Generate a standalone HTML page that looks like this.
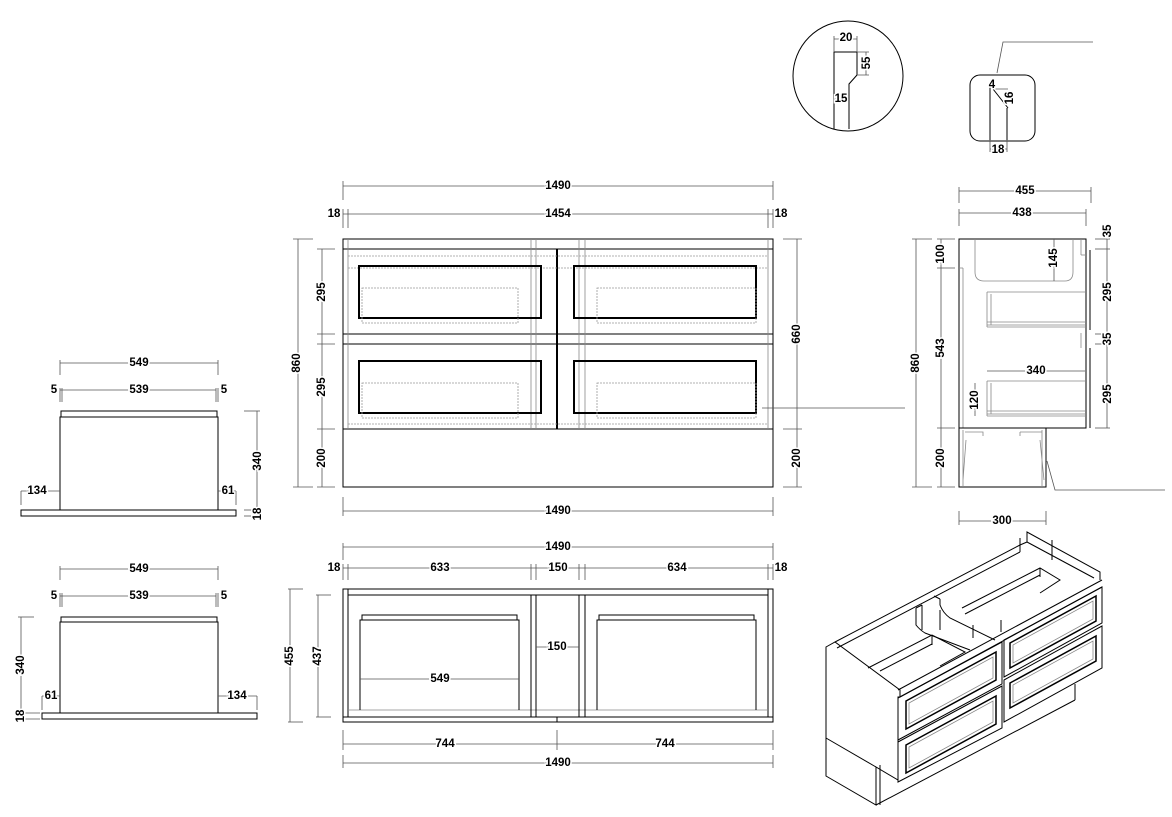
<!DOCTYPE html>
<html><head><meta charset="utf-8"><style>
html,body{margin:0;padding:0;background:#fff}
svg{display:block}
text{font-family:"Liberation Sans",sans-serif;font-weight:bold;font-size:11.5px;fill:#000;paint-order:stroke;stroke:#fff;stroke-width:3px;text-anchor:middle;dominant-baseline:central}
.l{stroke:#000;stroke-width:1;fill:none}
.t{stroke:#000;stroke-width:2;fill:none}
.p{stroke:#000;stroke-width:1.5;fill:none}
.g{stroke:#888;stroke-width:.8;fill:none}
.d{stroke:#999;stroke-width:.8;fill:none;stroke-dasharray:2 1}
.m{stroke:#555;stroke-width:.8;fill:none}
</style></head><body>
<svg width="1172" height="817" viewBox="0 0 1172 817" xmlns="http://www.w3.org/2000/svg">

<!-- ===== FRONT VIEW ===== -->
<g>
<rect class="l" x="343" y="239" width="430" height="248"/>
<line class="l" x1="343" y1="249" x2="773" y2="249"/>
<line class="l" x1="343" y1="334" x2="773" y2="334"/>
<line class="l" x1="343" y1="344" x2="773" y2="344"/>
<line class="l" x1="343" y1="429" x2="773" y2="429"/>
<line class="t" x1="557" y1="249" x2="557" y2="429"/>
<line class="g" x1="348" y1="239" x2="348" y2="429"/>
<line class="g" x1="768" y1="239" x2="768" y2="429"/>
<line class="g" x1="531" y1="239" x2="531" y2="429"/>
<line class="g" x1="536" y1="239" x2="536" y2="429"/>
<line class="g" x1="579" y1="239" x2="579" y2="429"/>
<line class="g" x1="585" y1="239" x2="585" y2="429"/>
<line class="d" x1="348" y1="256" x2="768" y2="256"/>
<line class="d" x1="348" y1="268" x2="768" y2="268"/>
<line class="d" x1="348" y1="424" x2="768" y2="424"/>
<rect class="t" x="359" y="266" width="182" height="52"/>
<rect class="t" x="574" y="266" width="182" height="52"/>
<rect class="t" x="359" y="361" width="182" height="52"/>
<rect class="t" x="574" y="361" width="182" height="52"/>
<rect class="d" x="362" y="288" width="156" height="35"/>
<rect class="d" x="597" y="288" width="159" height="35"/>
<rect class="d" x="362" y="383" width="156" height="35"/>
<rect class="d" x="597" y="383" width="159" height="35"/>
<line class="m" x1="762" y1="408" x2="905" y2="408"/>
</g>
<g class="m">
<line x1="343" y1="186" x2="773" y2="186"/><line x1="343" y1="181" x2="343" y2="200"/><line x1="773" y1="181" x2="773" y2="200"/>
<line x1="343" y1="214" x2="773" y2="214"/><line x1="343" y1="209" x2="343" y2="228"/><line x1="348" y1="209" x2="348" y2="228"/><line x1="768" y1="209" x2="768" y2="228"/><line x1="773" y1="209" x2="773" y2="228"/>
<line x1="298" y1="239" x2="298" y2="487"/><line x1="293" y1="239" x2="313" y2="239"/><line x1="293" y1="487" x2="313" y2="487"/>
<line x1="322" y1="249" x2="322" y2="487"/><line x1="317" y1="249" x2="335" y2="249"/><line x1="317" y1="334" x2="335" y2="334"/><line x1="317" y1="344" x2="335" y2="344"/><line x1="317" y1="429" x2="335" y2="429"/><line x1="317" y1="487" x2="335" y2="487"/>
<line x1="797" y1="239" x2="797" y2="487"/><line x1="783" y1="239" x2="802" y2="239"/><line x1="783" y1="429" x2="802" y2="429"/><line x1="783" y1="487" x2="802" y2="487"/>
<line x1="343" y1="511" x2="773" y2="511"/><line x1="343" y1="497" x2="343" y2="516"/><line x1="773" y1="497" x2="773" y2="516"/>
</g>
<text x="558" y="186">1490</text>
<text x="558" y="214">1454</text>
<text x="334" y="214">18</text>
<text x="781" y="214">18</text>
<text x="558" y="511">1490</text>
<text transform="translate(297,363) rotate(-90)">860</text>
<text transform="translate(322,292) rotate(-90)">295</text>
<text transform="translate(322,387) rotate(-90)">295</text>
<text transform="translate(322,458) rotate(-90)">200</text>
<text transform="translate(797,334) rotate(-90)">660</text>
<text transform="translate(797,458) rotate(-90)">200</text>

<!-- ===== SIDE VIEW ===== -->
<g>
<rect class="l" x="959" y="239" width="127" height="189"/>
<line class="l" x1="1090" y1="250" x2="1090" y2="330"/>
<line class="l" x1="1090" y1="348" x2="1090" y2="428"/>
<line class="g" x1="1081" y1="239" x2="1081" y2="255"/><line class="g" x1="1081" y1="255" x2="1086" y2="255"/>
<line class="g" x1="1081" y1="333" x2="1081" y2="348"/>
<line class="g" x1="963" y1="268" x2="963" y2="428"/><line class="g" x1="959" y1="268" x2="963" y2="268"/>
<path class="g" d="M975 239 V272 Q975 281 984 281 H1065 Q1073 281 1073 272 V239"/>
<path class="g" d="M987 292 H1086 M987 292 V327 M991 294 V325 M987 322 H1086 M987 325 H1086 M987 327 H1086"/>
<path class="g" d="M987 381 H1086 M987 381 V416 M991 383 V414 M987 411 H1086 M987 414 H1086 M987 416 H1086"/>
<rect class="l" x="959" y="428" width="87" height="59"/>
<path class="g" d="M963 430 V487 M1042 430 V487 M965 432 H983 V436 M1020 432 H1042 M1020 432 V436 M966 440 L963 480 M1040 440 L1044 480"/>
<path class="m" d="M1047 461 L1055 490 H1165"/>
</g>
<g class="m">
<line x1="959" y1="191" x2="1091" y2="191"/><line x1="959" y1="187" x2="959" y2="203"/><line x1="1091" y1="187" x2="1091" y2="203"/>
<line x1="959" y1="213" x2="1086" y2="213"/><line x1="959" y1="209" x2="959" y2="226"/><line x1="1086" y1="209" x2="1086" y2="226"/>
<line x1="916" y1="239" x2="916" y2="487"/><line x1="912" y1="239" x2="932" y2="239"/><line x1="912" y1="487" x2="932" y2="487"/>
<line x1="941" y1="239" x2="941" y2="487"/><line x1="937" y1="239" x2="955" y2="239"/><line x1="937" y1="268" x2="955" y2="268"/><line x1="937" y1="428" x2="955" y2="428"/><line x1="937" y1="487" x2="955" y2="487"/>
<line x1="1107" y1="239" x2="1107" y2="428"/><line x1="1095" y1="249" x2="1110" y2="249"/><line x1="1095" y1="334" x2="1110" y2="334"/><line x1="1095" y1="344" x2="1110" y2="344"/><line x1="1095" y1="428" x2="1110" y2="428"/><line x1="1095" y1="239" x2="1110" y2="239"/>
<line x1="1054" y1="239" x2="1054" y2="281"/>
<line x1="987" y1="371" x2="1085" y2="371"/>
<line x1="975" y1="383" x2="975" y2="416"/>
<line x1="959" y1="521" x2="1046" y2="521"/><line x1="959" y1="511" x2="959" y2="525"/><line x1="1046" y1="511" x2="1046" y2="525"/>
</g>
<text x="1025" y="191">455</text>
<text x="1022" y="213">438</text>
<text transform="translate(916,363) rotate(-90)">860</text>
<text transform="translate(941,254) rotate(-90)">100</text>
<text transform="translate(941,348) rotate(-90)">543</text>
<text transform="translate(941,458) rotate(-90)">200</text>
<text transform="translate(1108,231) rotate(-90)">35</text>
<text transform="translate(1108,292) rotate(-90)">295</text>
<text transform="translate(1108,339) rotate(-90)">35</text>
<text transform="translate(1108,394) rotate(-90)">295</text>
<text transform="translate(1054,258) rotate(-90)">145</text>
<text x="1036" y="371">340</text>
<text transform="translate(975,400) rotate(-90)">120</text>
<text x="1002" y="521">300</text>

<!-- ===== DETAILS ===== -->
<circle class="l" cx="848" cy="76" r="55"/>
<path class="l" d="M834 129 V52 H857 V75 L849 84 V129"/>
<path class="m" d="M834 52 V36 M857 52 V36 M834 39 H857 M857 52 H869 M857 75 H869 M866 52 V75 M834 98 H838"/>
<text x="846" y="38">20</text>
<text transform="translate(867,63) rotate(-90)">55</text>
<text x="841" y="99">15</text>
<rect class="l" x="970" y="75" width="65" height="66" rx="10"/>
<path class="l" d="M990 86 V140 M1007 108 V140 M993 89 L1008 108"/>
<path class="m" d="M1093 42 H1003 L997 73 M993 89 H1008 M990 140 V152 M1007 140 V152 M990 149 H1007"/>
<text x="992" y="85">4</text>
<text transform="translate(1010,98) rotate(-90)">16</text>
<text x="998" y="150">18</text>

<!-- ===== LEFT SIDE VIEWS ===== -->
<g>
<rect class="l" x="60" y="417" width="158" height="93"/>
<path class="l" d="M61 417 V411 H217 V417"/>
<rect class="l" x="21" y="510" width="215" height="6"/>
<rect class="l" x="60" y="622" width="158" height="91"/>
<path class="l" d="M61 622 V617 H217 V622"/>
<rect class="l" x="42" y="713" width="215" height="6"/>
</g>
<g class="m">
<line x1="60" y1="363" x2="218" y2="363"/><line x1="60" y1="360" x2="60" y2="375"/><line x1="218" y1="360" x2="218" y2="375"/>
<line x1="60" y1="390" x2="216" y2="390"/><line x1="60" y1="388" x2="60" y2="402"/><line x1="62" y1="388" x2="62" y2="402"/><line x1="216" y1="388" x2="216" y2="402"/><line x1="218" y1="388" x2="218" y2="402"/>
<line x1="257" y1="411" x2="257" y2="516"/><line x1="244" y1="411" x2="260" y2="411"/><line x1="244" y1="510" x2="260" y2="510"/><line x1="244" y1="516" x2="260" y2="516"/>
<line x1="21" y1="491" x2="60" y2="491"/><line x1="21" y1="491" x2="21" y2="505"/><line x1="218" y1="491" x2="236" y2="491"/><line x1="236" y1="491" x2="236" y2="505"/>
<line x1="60" y1="569" x2="218" y2="569"/><line x1="60" y1="566" x2="60" y2="580"/><line x1="218" y1="566" x2="218" y2="580"/>
<line x1="60" y1="596" x2="216" y2="596"/><line x1="60" y1="593" x2="60" y2="607"/><line x1="62" y1="593" x2="62" y2="607"/><line x1="216" y1="593" x2="216" y2="607"/><line x1="218" y1="593" x2="218" y2="607"/>
<line x1="21" y1="617" x2="21" y2="719"/><line x1="18" y1="617" x2="34" y2="617"/><line x1="18" y1="713" x2="40" y2="713"/><line x1="18" y1="719" x2="40" y2="719"/>
<line x1="42" y1="696" x2="60" y2="696"/><line x1="42" y1="696" x2="42" y2="710"/><line x1="218" y1="696" x2="257" y2="696"/><line x1="257" y1="696" x2="257" y2="710"/>
</g>
<text x="139" y="363">549</text><text x="139" y="390">539</text><text x="54" y="390">5</text><text x="224" y="390">5</text>
<text transform="translate(258,461) rotate(-90)">340</text><text transform="translate(258,514) rotate(-90)">18</text>
<text x="37" y="491">134</text><text x="228" y="491">61</text>
<text x="139" y="569">549</text><text x="139" y="596">539</text><text x="54" y="596">5</text><text x="224" y="596">5</text>
<text transform="translate(21,665) rotate(-90)">340</text><text transform="translate(21,716) rotate(-90)">18</text>
<text x="51" y="696">61</text><text x="237" y="696">134</text>

<!-- ===== PLAN VIEW ===== -->
<g>
<rect class="l" x="343" y="589" width="430" height="133"/>
<line class="l" x1="348" y1="595" x2="768" y2="595"/>
<line class="l" x1="348" y1="589" x2="348" y2="717"/>
<line class="l" x1="768" y1="589" x2="768" y2="717"/>
<line class="l" x1="343" y1="717" x2="773" y2="717"/>
<line class="g" x1="348" y1="710" x2="768" y2="710"/>
<rect class="l" x="531" y="595" width="5" height="122"/>
<rect class="l" x="579" y="595" width="6" height="122"/>
<line class="l" x1="557" y1="717" x2="557" y2="722"/>
<path class="l" d="M360 710 V620 H519 V710 M362 620 V615 H517 V620"/>
<path class="l" d="M597 710 V620 H756 V710 M599 620 V615 H754 V620"/>
</g>
<g class="m">
<line x1="343" y1="547" x2="773" y2="547"/><line x1="343" y1="543" x2="343" y2="560"/><line x1="773" y1="543" x2="773" y2="560"/>
<line x1="343" y1="568" x2="773" y2="568"/>
<line x1="343" y1="564" x2="343" y2="580"/><line x1="348" y1="564" x2="348" y2="580"/><line x1="531" y1="564" x2="531" y2="580"/><line x1="536" y1="564" x2="536" y2="580"/><line x1="579" y1="564" x2="579" y2="580"/><line x1="585" y1="564" x2="585" y2="580"/><line x1="768" y1="564" x2="768" y2="580"/><line x1="773" y1="564" x2="773" y2="580"/>
<line x1="536" y1="647" x2="579" y2="647"/>
<line x1="360" y1="679" x2="519" y2="679"/>
<line x1="290" y1="589" x2="290" y2="722"/><line x1="288" y1="589" x2="303" y2="589"/><line x1="288" y1="722" x2="303" y2="722"/>
<line x1="318" y1="595" x2="318" y2="717"/><line x1="316" y1="595" x2="331" y2="595"/><line x1="316" y1="717" x2="331" y2="717"/>
<line x1="343" y1="744" x2="773" y2="744"/><line x1="343" y1="730" x2="343" y2="750"/><line x1="557" y1="730" x2="557" y2="750"/><line x1="773" y1="730" x2="773" y2="750"/>
<line x1="343" y1="763" x2="773" y2="763"/><line x1="343" y1="755" x2="343" y2="768"/><line x1="773" y1="755" x2="773" y2="768"/>
</g>
<text x="558" y="547">1490</text>
<text x="334" y="568">18</text><text x="440" y="568">633</text><text x="558" y="568">150</text><text x="677" y="568">634</text><text x="781" y="568">18</text>
<text x="557" y="647">150</text>
<text x="440" y="679">549</text>
<text transform="translate(290,656) rotate(-90)">455</text>
<text transform="translate(318,656) rotate(-90)">437</text>
<text x="445" y="744">744</text><text x="665" y="744">744</text>
<text x="558" y="763">1490</text>

<!-- ===== ISOMETRIC ===== -->
<g class="l">
<path d="M826 647 L835 642 L900 690 L900 697 L898 697 L898 780 L876 767 V805 L826 776 Z"/>
<line x1="826" y1="738" x2="876" y2="767"/>
<line x1="876" y1="805" x2="1075" y2="700"/>
<line x1="1075" y1="684" x2="1075" y2="700"/>
<line x1="880" y1="765" x2="880" y2="805"/>
<path d="M835 642 L1020 545 L1027 542 L1027 532 L1100 572 L1100 580"/>
<line x1="837" y1="648" x2="1020" y2="552"/>
<line x1="1020" y1="538" x2="1020" y2="552"/>
<line x1="1027" y1="542" x2="1094" y2="578"/>
<path d="M898 690 L1102 580"/>
<path d="M900 697 L1102 587"/>
<path d="M898 698 L1002 642 V684 L898 740 Z"/>
<path d="M898 742 L1002 686 V728 L898 782 Z"/>
<path d="M1004 640 L1102 587 V623 L1004 677 Z"/>
<path d="M1004 680 L1102 626 V668 L1004 722 Z"/>
<path class="p" d="M906 701 L996 652 V680 L906 729 Z"/>
<path class="g" d="M909 703 L993 657 V678 L909 724 Z"/>
<path class="p" d="M906 745 L996 696 V724 L906 773 Z"/>
<path class="g" d="M909 747 L993 701 V722 L909 768 Z"/>
<path class="p" d="M1010 643 L1096 596 V621 L1010 668 Z"/>
<path class="g" d="M1013 645 L1093 601 V619 L1013 663 Z"/>
<path class="p" d="M1010 683 L1096 636 V661 L1010 708 Z"/>
<path class="g" d="M1013 685 L1093 641 V659 L1013 703 Z"/>
<path d="M868 668 L932 635 L965 652 L940 666"/>
<path d="M880 671 L932 644"/>
<path d="M932 635 V645"/>
<path d="M962 608 L1040 568 L1060 580 L1040 593"/>
<path d="M965 614 L1040 575"/>
<path d="M1040 568 V577"/>
<path d="M916 608 V625 Q920 630 925 633 L970 650"/>
<path d="M940 599 V605 Q943 613 950 618 L995 640"/>
<path d="M934 596 L940 599"/>
<line x1="916" y1="608" x2="922" y2="605"/>
<line x1="922" y1="605" x2="922" y2="630"/>
<line x1="940" y1="630" x2="940" y2="610"/>
<line x1="973" y1="625" x2="973" y2="638"/><line x1="1001" y1="620" x2="1001" y2="632"/>
<line x1="1052" y1="540" x2="1052" y2="560"/>
</g>
</svg>
</body></html>
